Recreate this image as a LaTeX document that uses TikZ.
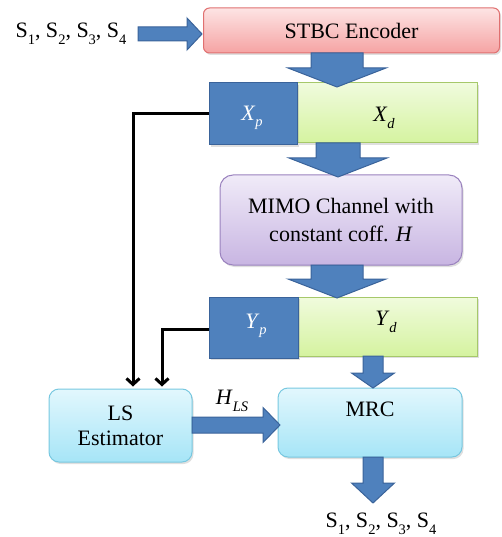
\documentclass[tikz,border=0pt]{standalone}
\usepackage{fontspec}
\setmainfont{Liberation Serif}
\usetikzlibrary{shadows,arrows.meta,calc}
\definecolor{blkfill}{HTML}{4F81BD}
\definecolor{blkdraw}{HTML}{3A639A}
\definecolor{redtop}{HTML}{FDE4E4}
\definecolor{redbot}{HTML}{F5A3A3}
\definecolor{redline}{HTML}{E07070}
\definecolor{grntop}{HTML}{F0FBDD}
\definecolor{grnbot}{HTML}{D5F3A0}
\definecolor{grnline}{HTML}{A6C86A}
\definecolor{prptop}{HTML}{F0EBF8}
\definecolor{prpbot}{HTML}{C8B5E2}
\definecolor{prpline}{HTML}{9A82BE}
\definecolor{cyntop}{HTML}{E2F7FD}
\definecolor{cynbot}{HTML}{A6E5F7}
\definecolor{cynline}{HTML}{78C8E0}
\newcommand\lo[1]{\raisebox{-0.3em}{\fontsize{14.5}{14.5}\selectfont #1}}
\newcommand\blkdown[6]{\draw[blkarrow] ({#1-#5},#2) -- ({#1+#5},#2) -- ({#1+#5},#3) -- ({#1+#6},#3) -- (#1,#4) -- ({#1-#6},#3) -- ({#1-#5},#3) -- cycle;}
\newcommand\blkright[6]{\draw[blkarrow] (#2,{#1-#5}) -- (#3,{#1-#5}) -- (#3,{#1-#6}) -- (#4,#1) -- (#3,{#1+#6}) -- (#3,{#1+#5}) -- (#2,{#1+#5}) -- cycle;}
\begin{document}
\begin{tikzpicture}[x=1pt,y=-1pt,
  txt/.style={font=\fontsize{22}{27}\selectfont, inner sep=0pt},
  box/.style={txt, line width=1pt, align=center,
    drop shadow={opacity=0.25, shadow xshift=1.5pt, shadow yshift=-2pt}},
  redbox/.style={box, draw=redline, top color=redtop, bottom color=redbot, rounded corners=6pt},
  grnbox/.style={box, draw=grnline, top color=grntop, bottom color=grnbot},
  blubox/.style={box, draw=blkdraw, fill=blkfill, text=white},
  prpbox/.style={box, draw=prpline, top color=prptop, bottom color=prpbot, rounded corners=13pt},
  cynbox/.style={box, draw=cynline, top color=cyntop, bottom color=cynbot, rounded corners=10pt},
  blkarrow/.style={fill=blkfill, draw=blkdraw, line width=1pt},
  fb/.style={line width=3pt, -{Straight Barb[length=6pt,width=13pt,line width=3pt]}}
]
\useasboundingbox (0,0) rectangle (502,537);

\node[txt] (in) at (71,34) {S\lo{1}, S\lo{2}, S\lo{3}, S\lo{4}};
\node[redbox, minimum width=296pt, minimum height=45pt] (stbc) at (351.5,30.5) {STBC Encoder};
\node[grnbox, minimum width=180pt, minimum height=60pt] (xd) at (387,113) {};
\node[blubox, minimum width=88pt, minimum height=62pt] (xp) at (253,114) {};
\node[txt] at (252,118) {\textcolor{white}{\textit{X}\lo{\textit{p}}}};
\node[txt] at (384,118) {\textit{X}\lo{\textit{d}}};
\node[prpbox, minimum width=242pt, minimum height=90pt] (mimo) at (341,220) {MIMO Channel with\\[1pt]constant coff. \textit{H}};
\node[grnbox, minimum width=179pt, minimum height=59pt] (yd) at (387.5,326.5) {};
\node[blubox, minimum width=89pt, minimum height=61pt] (yp) at (253.5,327.5) {};
\node[txt] at (256,326) {\textcolor{white}{\textit{Y}\lo{\textit{p}}}};
\node[txt] at (386,322) {\textit{Y}\lo{\textit{d}}};
\node[cynbox, minimum width=143pt, minimum height=73pt] (ls) at (120.5,425.5) {LS\\[-2pt]Estimator};
\node[cynbox, minimum width=184pt, minimum height=69pt] (mrc) at (370,422.5) {MRC\\\mbox{}};
\node[txt] (hls) at (232,401) {\textit{H}\lo{\textit{LS}}};
\node[txt] (out) at (381,524) {S\lo{1}, S\lo{2}, S\lo{3}, S\lo{4}};

\blkright{34}{138}{187}{202}{7}{16}
\blkdown{337}{53}{68}{87}{26}{49}
\blkdown{338}{143}{158}{177}{22}{49}
\blkdown{337}{265}{279}{298}{26}{49}
\blkdown{373}{356}{373}{388}{10}{21.5}
\blkdown{373}{457}{483}{503}{10}{21.5}
\blkright{425}{192}{263}{280}{8}{17.5}

\draw[fb] (xp.west) -| ([xshift=12.5pt,yshift=2pt]ls.north);
\draw[fb] ([yshift=-1.5pt]yp.west) -| ([xshift=41.5pt,yshift=2pt]ls.north);
\end{tikzpicture}
\end{document}
